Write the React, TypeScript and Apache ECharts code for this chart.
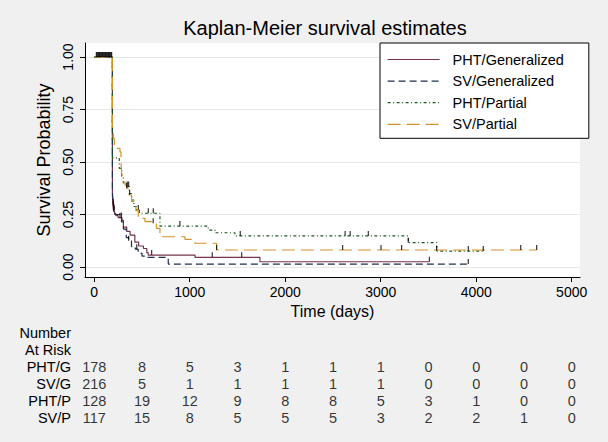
import React, { useEffect, useRef } from "react";
import * as echarts from "echarts";

// ---------- data ----------
const groupNames = ["PHT/Generalized", "SV/Generalized", "PHT/Partial", "SV/Partial"];
const rowLabels = ["PHT/G", "SV/G", "PHT/P", "SV/P"];
const tableHeader = ["Number", "At Risk"];

const phtGenT = [0, 190, 196, 203, 212, 225, 250, 290, 305, 340, 375, 425, 465, 515, 550, 565, 1055, 1735, 3510];
const phtGenS = [1, 0.34, 0.29, 0.265, 0.255, 0.245, 0.235, 0.222, 0.19, 0.17, 0.152, 0.118, 0.1, 0.088, 0.068, 0.057, 0.046, 0.025, 0.025];

const svGenT = [0, 190, 197, 205, 215, 285, 305, 335, 360, 390, 430, 460, 500, 560, 775, 3917];
const svGenS = [1, 0.36, 0.3, 0.27, 0.25, 0.215, 0.18, 0.14, 0.125, 0.097, 0.085, 0.065, 0.052, 0.046, 0.014, 0.014];

const phtPartT = [0, 190, 262, 287, 304, 339, 367, 391, 415, 444, 472, 688, 1194, 1264, 1473, 3289, 3586, 4074];
const phtPartS = [1, 0.52, 0.47, 0.43, 0.4, 0.383, 0.35, 0.319, 0.288, 0.271, 0.256, 0.195, 0.176, 0.163, 0.148, 0.116, 0.076, 0.076];

const svPartT = [0, 190, 199, 210, 269, 280, 287, 304, 322, 339, 367, 391, 415, 436, 461, 531, 600, 650, 688, 950, 1055, 1281, 4633];
const svPartS = [1, 0.637, 0.613, 0.565, 0.548, 0.51, 0.438, 0.406, 0.39, 0.375, 0.343, 0.311, 0.287, 0.268, 0.232, 0.216, 0.208, 0.184, 0.144, 0.132, 0.113, 0.081, 0.081];

// censoring times (tick marks)
const censorStartT = [22, 30, 38, 46, 54, 62, 70, 78, 86, 94, 102, 110, 118, 126, 134, 142, 150, 158, 166, 174, 182];
const phtGenCensorT = [200, 207, 270, 285, 601, 1236, 1544, 3510];
const svGenCensorT = [199, 205, 360, 445, 3917];
const phtPartCensorT = [345, 360, 461, 566, 618, 897, 1529, 2627, 2680, 2870, 3289, 3586, 3917, 4074];
const svPartCensorT = [340, 370, 617, 1281, 2601, 3003, 3219, 4466, 4633];

// number at risk
const riskTimes = [0, 500, 1000, 1500, 2000, 2500, 3000, 3500, 4000, 4500, 5000];
const phtGenRisk = [178, 8, 5, 3, 1, 1, 1, 0, 0, 0, 0];
const svGenRisk = [216, 5, 1, 1, 1, 1, 1, 0, 0, 0, 0];
const phtPartRisk = [128, 19, 12, 9, 8, 8, 5, 3, 1, 0, 0];
const svPartRisk = [117, 15, 8, 5, 5, 5, 3, 2, 2, 1, 0];

const xTicks = [0, 1000, 2000, 3000, 4000, 5000];
const yTicks = [0, 0.25, 0.5, 0.75, 1];

// ---------- styles ----------
const FONT = "'Liberation Sans', Arial, sans-serif";
const colors = ["#75344a", "#1f2f4f", "#1e5a1e", "#d4922b"];
const dashes: any[] = ["solid", [7, 4], [3, 2.5, 1, 2.5], [13, 6]];

function pairs(t: number[], s: number[]) {
  return t.map((v, i) => [v, s[i]]);
}
function stepAt(t: number[], s: number[], x: number) {
  let v = s[0];
  for (let i = 0; i < t.length; i++) if (t[i] <= x) v = s[i];
  return v;
}

export default function App() {
  const ref = useRef<HTMLDivElement>(null);
  useEffect(() => {
    if (!ref.current) return;
    const chart = echarts.init(ref.current, null, { renderer: "svg" });

    const curves = [
      [phtGenT, phtGenS],
      [svGenT, svGenS],
      [phtPartT, phtPartS],
      [svPartT, svPartS],
    ];
    const censors = [phtGenCensorT, svGenCensorT, phtPartCensorT, svPartCensorT];
    const risks = [phtGenRisk, svGenRisk, phtPartRisk, svPartRisk];

    const censorData: number[][] = censorStartT.map((t) => [t, 1]);
    censors.forEach((ct, g) => {
      ct.forEach((t) => censorData.push([t, stepAt(curves[g][0], curves[g][1], t)]));
    });

    const tableData: any[] = [];
    risks.forEach((r, g) => {
      r.forEach((n, i) => tableData.push([riskTimes[i], rowLabels[g], n]));
    });

    const xMin = -97;
    const xMax = 5087;

    const lineSeries = groupNames.map((name, g) => ({
      name,
      type: "line",
      step: "end",
      data: pairs(curves[g][0], curves[g][1]),
      symbol: "none",
      showSymbol: false,
      lineStyle: { color: colors[g], width: 1.2, type: dashes[g] },
      itemStyle: { color: colors[g] },
      xAxisIndex: 0,
      yAxisIndex: 0,
      silent: true,
      z: 3,
    }));

    chart.setOption({
      animation: false,
      backgroundColor: "#f0f0f0",
      textStyle: { fontFamily: FONT },
      title: {
        text: "Kaplan-Meier survival estimates",
        left: 325,
        top: 18,
        padding: 0,
        textAlign: "center",
        textStyle: { fontSize: 20, fontWeight: "normal", color: "#000", fontFamily: FONT },
      },
      legend: {
        data: groupNames,
        orient: "vertical",
        left: 380,
        top: 43,
        padding: [9, 25, 6.5, 7],
        itemWidth: 52,
        itemHeight: 14,
        itemGap: 6.6,
        backgroundColor: "#fff",
        borderColor: "#000",
        borderWidth: 1,
        borderRadius: 0,
        selectedMode: false,
        itemStyle: { opacity: 0, color: "transparent", borderWidth: 0 },
        lineStyle: { width: 1.2 },
        textStyle: { fontSize: 14.5, color: "#000", fontFamily: FONT, lineHeight: 14, padding: [0, 0, 0, 8] },
      },
      grid: [
        { left: 85, top: 43, width: 495, height: 234, show: true, backgroundColor: "#fff", borderWidth: 0 },
        { left: 85, top: 324.5, width: 495, height: 102, show: false },
      ],
      xAxis: [
        {
          type: "value",
          gridIndex: 0,
          min: xMin,
          max: xMax,
          name: "Time (days)",
          nameLocation: "middle",
          nameGap: 25,
          nameTextStyle: { fontSize: 16, color: "#000", fontFamily: FONT },
          axisLine: { show: true, onZero: false, lineStyle: { color: "#000", width: 1 } },
          axisTick: { show: true, length: 5, customValues: xTicks, lineStyle: { color: "#000" } },
          axisLabel: {
            customValues: xTicks,
            fontSize: 14,
            color: "#000",
            margin: 8,
            fontFamily: FONT,
            formatter: (v: number) => String(v),
          },
          splitLine: { show: false },
        },
        {
          type: "value",
          gridIndex: 1,
          min: xMin,
          max: xMax,
          show: false,
        },
      ],
      yAxis: [
        {
          type: "value",
          gridIndex: 0,
          min: -0.0476,
          max: 1.0667,
          name: "Survival Probability",
          nameLocation: "middle",
          nameRotate: 90,
          nameGap: 25,
          nameTextStyle: { fontSize: 18, color: "#000", fontFamily: FONT },
          axisLine: { show: true, onZero: false, lineStyle: { color: "#000", width: 1 } },
          axisTick: { show: true, length: 5, customValues: yTicks, lineStyle: { color: "#000" } },
          axisLabel: {
            customValues: yTicks,
            rotate: 90,
            fontSize: 14,
            color: "#000",
            margin: 10,
            fontFamily: FONT,
            formatter: (v: number) => v.toFixed(2),
          },
          splitLine: { show: true, lineStyle: { color: "#e6e6e6", width: 1 } },
        },
        {
          type: "category",
          gridIndex: 1,
          data: [...tableHeader, ...rowLabels],
          inverse: true,
          axisLine: { show: false },
          axisTick: { show: false },
          axisLabel: { interval: 0, fontSize: 14.5, color: "#000", margin: 14, align: "right", fontFamily: FONT },
          splitLine: { show: false },
        },
      ],
      series: [
        ...lineSeries,
        {
          name: "censored",
          type: "scatter",
          xAxisIndex: 0,
          yAxisIndex: 0,
          data: censorData,
          symbol: "rect",
          symbolSize: [1.2, 5],
          symbolOffset: [0, "-50%"],
          itemStyle: { color: "#000" },
          silent: true,
          z: 4,
        },
        {
          name: "atrisk",
          type: "scatter",
          xAxisIndex: 1,
          yAxisIndex: 1,
          data: tableData,
          symbolSize: 0,
          silent: true,
          label: {
            show: true,
            position: "inside",
            formatter: (p: any) => String(p.value[2]),
            fontSize: 14.5,
            color: "#000",
            fontFamily: FONT,
          },
        },
      ],
    });
    return () => chart.dispose();
  }, []);
  return <div ref={ref} style={{ position: "fixed", left: 0, top: 0, width: 608, height: 442 }} />;
}
